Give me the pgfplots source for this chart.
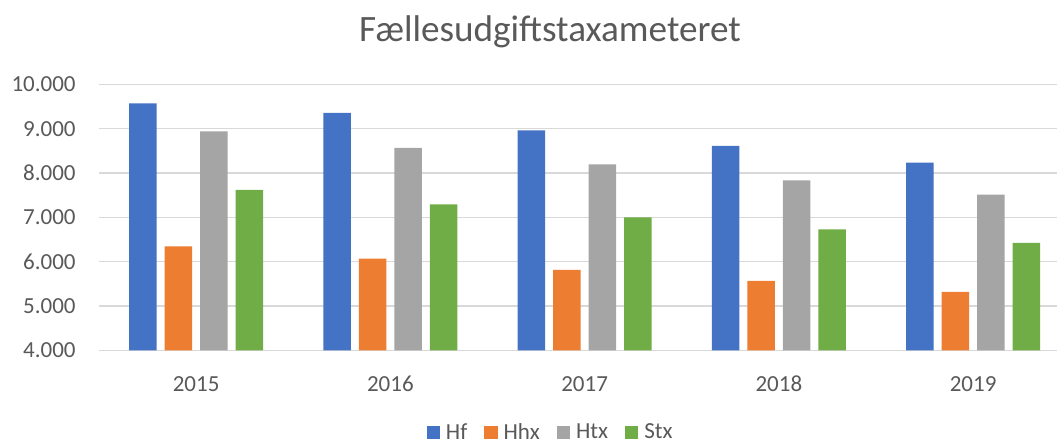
\documentclass[border=0pt]{standalone}
\usepackage{fontspec}
\setmainfont{Carlito}
\usepackage{pgfplots}
\pgfplotsset{compat=1.18}
\definecolor{hf}{HTML}{4472C4}
\definecolor{hhx}{HTML}{ED7D31}
\definecolor{htx}{HTML}{A5A5A5}
\definecolor{stx}{HTML}{70AD47}
\definecolor{txt}{HTML}{595959}
\definecolor{grd}{HTML}{D9D9D9}
\begin{document}
\begin{tikzpicture}
\begin{axis}[
  at={(0,0)}, anchor=south west,
  scale only axis, width=479pt, height=133pt,
  xmin=-0.5, xmax=4.432, ymin=4000, ymax=10000,
  scaled y ticks=false,
  ytick={4000,5000,6000,7000,8000,9000,10000},
  yticklabels={4.000,5.000,6.000,7.000,8.000,9.000,10.000},
  xtick={0,1,2,3,4}, xticklabels={2015,2016,2017,2018,2019},
  axis line style={draw=none}, tick style={draw=none},
  ymajorgrids, grid style={grd, line width=0.75pt},
  ticklabel style={font=\fontsize{11.5}{13}\selectfont, text=txt, inner sep=0pt},
  yticklabel style={anchor=east, xshift=-11.5pt},
  xticklabel style={anchor=base, yshift=-20.5pt},
  title={Fællesudgiftstaxameteret},
  every axis title shift=0pt,
  title style={at={(0.4708,1)}, anchor=base, yshift=21.3pt, inner sep=0pt, font=\fontsize{18.6}{21}\selectfont, text=txt},
  legend style={at={(0.342,-0.31)}, anchor=west, draw=none, inner sep=0pt, outer sep=0pt,
    legend columns=-1, font=\fontsize{11.5}{13}\selectfont, text=txt,
    nodes={inner sep=0pt},
    /tikz/every odd column/.style={column sep=3pt},
    /tikz/every even column/.style={column sep=8.5pt}},
  legend image code/.code={\fill[#1] (0pt,-3.325pt) rectangle (6.65pt,3.325pt);},
]
\addplot[ybar, bar width=0.142, bar shift=-0.2741, fill=hf, draw=none] coordinates {(0,9571) (1,9353) (2,8962) (3,8609) (4,8233)};
\addplot[ybar, bar width=0.142, bar shift=-0.0914, fill=hhx, draw=none] coordinates {(0,6346) (1,6068) (2,5812) (3,5564) (4,5316)};
\addplot[ybar, bar width=0.142, bar shift=0.0914, fill=htx, draw=none] coordinates {(0,8940) (1,8564) (2,8195) (3,7835) (4,7511)};
\addplot[ybar, bar width=0.142, bar shift=0.2741, fill=stx, draw=none] coordinates {(0,7617) (1,7293) (2,7000) (3,6729) (4,6421)};
\legend{Hf,Hhx,Htx,Stx}
\end{axis}
\pgfresetboundingbox
\useasboundingbox (-49.5pt,-46.85pt) rectangle (479pt,175.15pt);
\end{tikzpicture}
\end{document}
